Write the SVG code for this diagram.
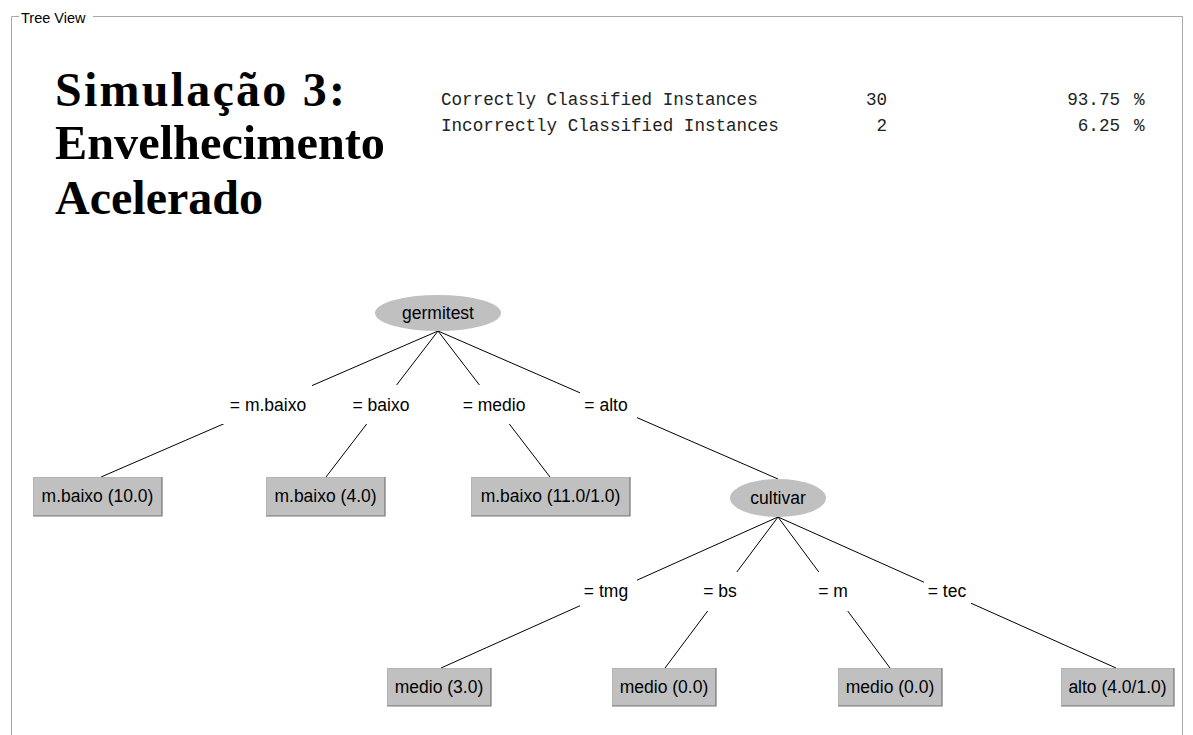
<svg xmlns="http://www.w3.org/2000/svg" width="1193" height="735" viewBox="0 0 1193 735">
<style>
.frame{stroke:#a8a8a8;stroke-width:1;fill:none}
.ttl{font-family:"Liberation Serif",serif;font-weight:bold;font-size:48px;fill:#000}
.mono{font-family:"Liberation Mono",monospace;font-size:17.6px;fill:#222}
.t{font-family:"Liberation Sans",Arial,sans-serif;font-size:17.5px;fill:#000;text-anchor:middle}
.ell{fill:#c0c0c0}
.box{fill:#c0c0c0;stroke:#b4b4b4;stroke-width:1}
.sh{stroke:#7a7a7a;stroke-width:1.2;fill:none}
.edge{stroke:#000;stroke-width:1;fill:none}
.lbg{fill:#fff}
</style>
<rect width="1193" height="735" fill="#fff"/>
<g id="frame">
<path class="frame" d="M11.5,735 V16.5 H19 M93,16.5 H1182.5 V735"/>
<text x="21" y="23" font-family="Liberation Sans,Arial,sans-serif" font-size="14.5" fill="#000">Tree View</text>
</g>
<g id="title">
<text class="ttl" x="55" y="106" textLength="290" lengthAdjust="spacing">Simulação 3:</text>
<text class="ttl" x="55" y="159" textLength="330" lengthAdjust="spacingAndGlyphs">Envelhecimento</text>
<text class="ttl" x="55" y="214" textLength="208" lengthAdjust="spacingAndGlyphs">Acelerado</text>
</g>
<g id="stats">
<text class="mono" x="441" y="105">Correctly Classified Instances</text>
<text class="mono" x="887" y="105" text-anchor="end">30</text>
<text class="mono" x="1120" y="105" text-anchor="end">93.75</text>
<text class="mono" x="1134" y="105">%</text>
<text class="mono" x="441" y="131">Incorrectly Classified Instances</text>
<text class="mono" x="887" y="131" text-anchor="end">2</text>
<text class="mono" x="1120" y="131" text-anchor="end">6.25</text>
<text class="mono" x="1134" y="131">%</text>
</g>
<g id="connectors">
<line class="edge" x1="438" y1="331" x2="101" y2="477"/>
<line class="edge" x1="438" y1="331" x2="326" y2="477"/>
<line class="edge" x1="438" y1="331" x2="550" y2="477"/>
<line class="edge" x1="438" y1="331" x2="778" y2="479"/>
<line class="edge" x1="778" y1="517" x2="441" y2="668"/>
<line class="edge" x1="778" y1="517" x2="665" y2="668"/>
<line class="edge" x1="778" y1="517" x2="890" y2="668"/>
<line class="edge" x1="778" y1="517" x2="1116" y2="668"/>
<rect class="lbg" x="222" y="385" width="90" height="39"/>
<rect class="lbg" x="348" y="385" width="66" height="39"/>
<rect class="lbg" x="457" y="385" width="74" height="39"/>
<rect class="lbg" x="580" y="385" width="57" height="39"/>
<rect class="lbg" x="580" y="572" width="57" height="39"/>
<rect class="lbg" x="699" y="572" width="43" height="39"/>
<rect class="lbg" x="813" y="572" width="40" height="39"/>
<rect class="lbg" x="924" y="572" width="47" height="39"/>
<text class="t" x="268" y="411">= m.baixo</text>
<text class="t" x="381" y="411">= baixo</text>
<text class="t" x="494" y="411">= medio</text>
<text class="t" x="606" y="411">= alto</text>
<text class="t" x="606" y="597">= tmg</text>
<text class="t" x="720" y="597">= bs</text>
<text class="t" x="833" y="597">= m</text>
<text class="t" x="947" y="597">= tec</text>
</g>
<g id="n_germitest">
<ellipse class="ell" cx="438" cy="313" rx="63" ry="18"/>
<text class="t" x="438" y="319">germitest</text>
</g>
<g id="n_leaf1">
<rect class="box" x="33.5" y="477.5" width="128" height="38"/>
<path class="sh" d="M162,477 V516 H33"/>
<text class="t" x="97.5" y="502">m.baixo (10.0)</text>
</g>
<g id="n_leaf2">
<rect class="box" x="266.5" y="477.5" width="118" height="38"/>
<path class="sh" d="M385,477 V516 H266"/>
<text class="t" x="325.5" y="502">m.baixo (4.0)</text>
</g>
<g id="n_leaf3">
<rect class="box" x="471.5" y="477.5" width="158" height="38"/>
<path class="sh" d="M630,477 V516 H471"/>
<text class="t" x="550.5" y="502">m.baixo (11.0/1.0)</text>
</g>
<g id="n_cultivar">
<ellipse class="ell" cx="778" cy="498" rx="48" ry="19"/>
<text class="t" x="778" y="504">cultivar</text>
</g>
<g id="n_leaf4">
<rect class="box" x="387.5" y="668.5" width="103" height="37"/>
<path class="sh" d="M491,668 V706 H387"/>
<text class="t" x="439" y="693">medio (3.0)</text>
</g>
<g id="n_leaf5">
<rect class="box" x="612.5" y="668.5" width="103" height="37"/>
<path class="sh" d="M716,668 V706 H612"/>
<text class="t" x="664" y="693">medio (0.0)</text>
</g>
<g id="n_leaf6">
<rect class="box" x="838.5" y="668.5" width="103" height="37"/>
<path class="sh" d="M942,668 V706 H838"/>
<text class="t" x="890" y="693">medio (0.0)</text>
</g>
<g id="n_leaf7">
<rect class="box" x="1061.5" y="668.5" width="112" height="37"/>
<path class="sh" d="M1174,668 V706 H1061"/>
<text class="t" x="1117.5" y="693">alto (4.0/1.0)</text>
</g>
</svg>
